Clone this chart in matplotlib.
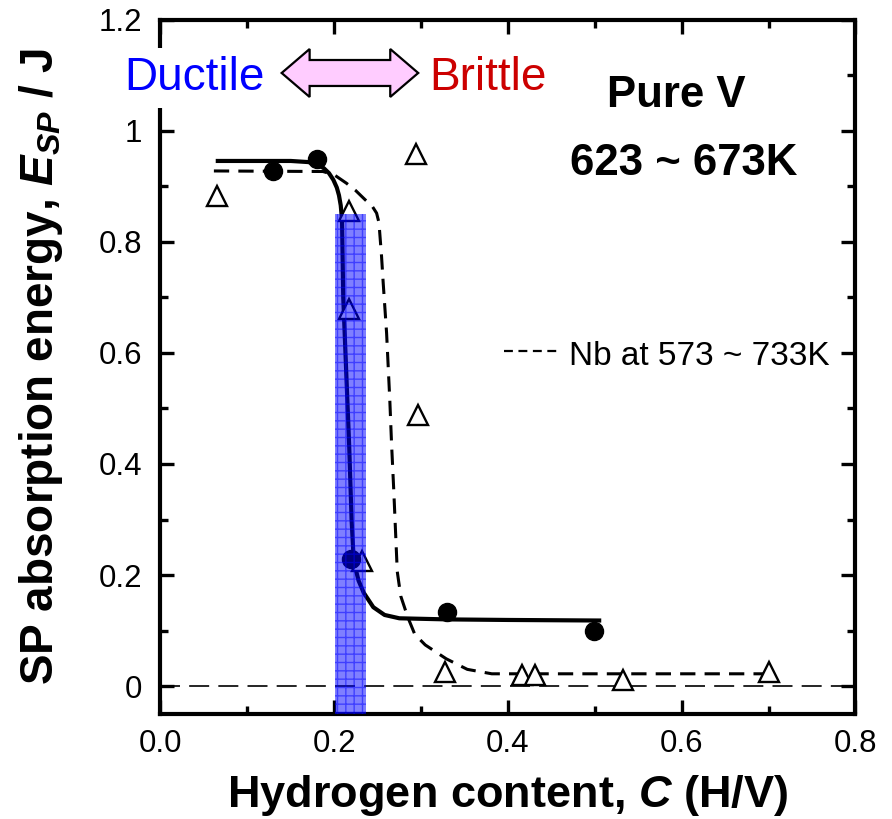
import matplotlib
matplotlib.use('Agg')
import matplotlib.pyplot as plt
from matplotlib.patches import Polygon, Rectangle
from matplotlib.ticker import MultipleLocator, FixedLocator
from matplotlib.lines import Line2D

# ---- data ----
v_x = [0.130, 0.180, 0.219, 0.330, 0.499]
v_y = [0.928, 0.949, 0.228, 0.133, 0.100]

nb_x = [0.065, 0.217, 0.217, 0.232, 0.294, 0.296, 0.328, 0.416, 0.431, 0.533, 0.700]
nb_y = [0.882, 0.856, 0.679, 0.225, 0.959, 0.488, 0.026, 0.020, 0.020, 0.011, 0.026]

# fitted curve for pure V (solid)
fitv_x = [0.066, 0.150, 0.170, 0.180, 0.188, 0.194, 0.199, 0.203, 0.2055, 0.2075, 0.2090,
          0.2104, 0.2173, 0.220, 0.222, 0.2245, 0.228, 0.234, 0.245, 0.258, 0.275, 0.330,
          0.400, 0.505]
fitv_y = [0.946, 0.946, 0.944, 0.940, 0.933, 0.924, 0.912, 0.898, 0.884, 0.866, 0.840,
          0.700, 0.430, 0.300, 0.240, 0.212, 0.190, 0.168, 0.142, 0.128, 0.122, 0.120,
          0.119, 0.118]

# Nb curve (dashed)
fitnb_x = [0.0615, 0.187, 0.200, 0.214, 0.2245, 0.2357, 0.2435, 0.2488, 0.2515, 0.2545,
           0.2564, 0.2603, 0.264, 0.266, 0.2686, 0.2726, 0.2766, 0.2847, 0.2928, 0.3048,
           0.329, 0.3532, 0.3814, 0.700]
fitnb_y = [0.928, 0.927, 0.921, 0.906, 0.893, 0.876, 0.865, 0.852, 0.835, 0.774,
           0.726, 0.636, 0.515, 0.437, 0.351, 0.206, 0.162, 0.124, 0.093, 0.074,
           0.049, 0.030, 0.022, 0.022]

band_x = [0.2007, 0.2364]
band_top = 0.85

xticks = [0.0, 0.2, 0.4, 0.6, 0.8]
xtick_labels = ['0.0', '0.2', '0.4', '0.6', '0.8']
yticks = [0, 0.2, 0.4, 0.6, 0.8, 1.0, 1.2]
ytick_labels = ['0', '0.2', '0.4', '0.6', '0.8', '1', '1.2']

# ---- style ----
plt.rcParams['font.family'] = ['Liberation Sans', 'DejaVu Sans']
plt.rcParams['mathtext.fontset'] = 'custom'
plt.rcParams['mathtext.rm'] = 'Liberation Sans:bold'
plt.rcParams['mathtext.it'] = 'Liberation Sans:bold:italic'
plt.rcParams['mathtext.bf'] = 'Liberation Sans:bold'
plt.rcParams['hatch.color'] = 'blue'

fig = plt.figure(figsize=(8.92, 8.19), dpi=100)
ax = fig.add_axes([0.1799, 0.1285, 0.7791, 0.8471])
ax.set_xlim(0, 0.8)
ax.set_ylim(-0.05, 1.2)

# zero line
ax.axhline(0, color='black', lw=1.2, dashes=(12, 5.5), zorder=1)

# curves
ax.plot(fitnb_x, fitnb_y, color='black', lw=2.2, dashes=(5, 3), zorder=2)
ax.plot(fitv_x, fitv_y, color='black', lw=3.0, zorder=2, solid_joinstyle='round')

# points
ax.plot(nb_x, nb_y, linestyle='none', marker='^', markersize=14,
        markerfacecolor='white', markeredgecolor='black', markeredgewidth=1.7, zorder=3)
ax.plot(v_x, v_y, linestyle='none', marker='o', markersize=13,
        color='black', zorder=3)

# blue band
band = Rectangle((band_x[0], -0.05), band_x[1] - band_x[0], band_top + 0.05,
                 facecolor='blue', edgecolor='blue', alpha=0.5, hatch='++',
                 lw=0, zorder=4)
ax.add_patch(band)

# ticks
ax.xaxis.set_major_locator(FixedLocator(xticks))
ax.xaxis.set_minor_locator(MultipleLocator(0.1))
ax.set_xticklabels(xtick_labels)
ax.yaxis.set_major_locator(FixedLocator(yticks))
ax.yaxis.set_minor_locator(MultipleLocator(0.1))
ax.set_yticklabels(ytick_labels)
ax.tick_params(which='both', direction='in', top=True, right=True, width=2.4)
ax.tick_params(which='major', length=10, labelsize=22.5)
ax.tick_params(which='minor', length=5.5)
ax.tick_params(axis='y', which='major', pad=13)
ax.tick_params(axis='x', which='major', pad=11)
for s in ax.spines.values():
    s.set_linewidth(3)

ax.set_xlabel(r'Hydrogen content, $C$ (H/V)', fontsize=32.5, fontweight='bold', labelpad=10)
ax.set_ylabel(r'SP absorption energy, $E_{SP}$ / J', fontsize=33, fontweight='bold', labelpad=24)

# texts
ax.text(-0.042, 1.074, 'Ductile', color='#0000ff', fontsize=33, va='baseline', ha='left',
        bbox=dict(facecolor='white', edgecolor='none', pad=6), zorder=5)
ax.text(0.309, 1.074, 'Brittle', color='#cc0000', fontsize=33, va='baseline', ha='left', zorder=5)
ax.text(0.594, 1.0427, 'Pure V', fontsize=31.5, fontweight='bold', ha='center', va='baseline')
ax.text(0.6024, 0.9207, '623 ~ 673K', fontsize=31.5, fontweight='bold', ha='center', va='baseline')
ax.text(0.470, 0.5784, 'Nb at 573 ~ 733K', fontsize=24, ha='left', va='baseline')
ax.add_line(Line2D([0.395, 0.456], [0.604, 0.604], color='black', lw=1.6, dashes=(4, 2.5)))

# double arrow
xl, xr, yc = 0.1395, 0.2967, 1.1045
hl, bh, hh = 0.0322, 0.0234, 0.0432
verts = [(xl, yc), (xl + hl, yc + hh), (xl + hl, yc + bh), (xr - hl, yc + bh),
         (xr - hl, yc + hh), (xr, yc), (xr - hl, yc - hh), (xr - hl, yc - bh),
         (xl + hl, yc - bh), (xl + hl, yc - hh)]
ax.add_patch(Polygon(verts, closed=True, facecolor='#ffccff', edgecolor='black',
                     lw=1.6, zorder=5, clip_on=False))

fig.savefig('out.png', dpi=100)
